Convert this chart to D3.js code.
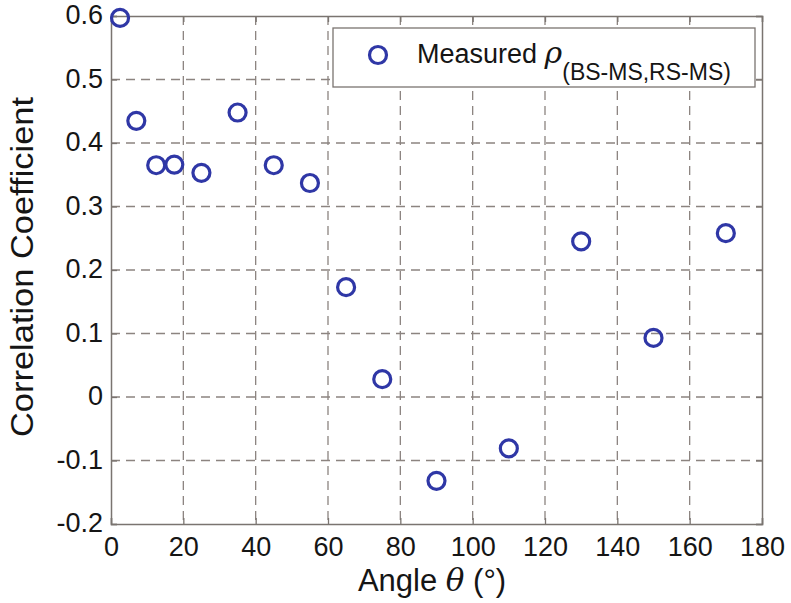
<!DOCTYPE html>
<html>
<head>
<meta charset="utf-8">
<script src="https://cdn.jsdelivr.net/npm/d3@7"></script>
<style>
  html, body { margin: 0; padding: 0; background: #fff; }
  svg { display: block; font-family: "Liberation Sans", Arial, sans-serif; }
</style>
</head>
<body>
<svg id="chart" width="791" height="603"></svg>
<script>
// Measured correlation coefficient vs. angle
const angles = [2.5, 7, 12.5, 17.5, 25, 35, 45, 55, 65, 75, 90, 110, 130, 150, 170];
const rho    = [0.597, 0.435, 0.365, 0.366, 0.353, 0.448, 0.365, 0.337, 0.173, 0.028, -0.132, -0.081, 0.245, 0.093, 0.258];

const xTicks = [0, 20, 40, 60, 80, 100, 120, 140, 160, 180];
const yTicks = [-0.2, -0.1, 0, 0.1, 0.2, 0.3, 0.4, 0.5, 0.6];

const svg = d3.select("#chart");
const margin = { left: 111, right: 791 - 762, top: 16, bottom: 603 - 524 };
const W = 791 - margin.left - margin.right;
const H = 603 - margin.top - margin.bottom;

const x = d3.scaleLinear().domain([0, 180]).range([0, W]);
const y = d3.scaleLinear().domain([-0.2, 0.6]).range([H, 0]);

const g = svg.append("g").attr("transform", `translate(${margin.left},${margin.top})`);

const gridColor = "#8c8480";
const axisColor = "#7a7470";
const markColor = "#2f37a6";
const textColor = "#151515";

// dashed grid
g.append("g").selectAll("line").data(xTicks.slice(1, -1)).join("line")
  .attr("x1", d => x(d)).attr("x2", d => x(d)).attr("y1", 0).attr("y2", H)
  .attr("stroke", gridColor).attr("stroke-width", 1.3).attr("stroke-dasharray", "9,6");
g.append("g").selectAll("line").data(yTicks.slice(1, -1)).join("line")
  .attr("y1", d => y(d)).attr("y2", d => y(d)).attr("x1", 0).attr("x2", W)
  .attr("stroke", gridColor).attr("stroke-width", 1.3).attr("stroke-dasharray", "9,6");

// axes with inward ticks
const fmtY = d => d === 0 ? "0" : d3.format(".1f")(d).replace("−", "-");
const xAxis = g.append("g").attr("transform", `translate(0,${H})`)
  .call(d3.axisBottom(x).tickValues(xTicks).tickSize(-6).tickPadding(13).tickFormat(d3.format("d")));
const yAxis = g.append("g")
  .call(d3.axisLeft(y).tickValues(yTicks).tickSize(-6).tickPadding(8).tickFormat(fmtY));
const xTop = g.append("g")
  .call(d3.axisTop(x).tickValues(xTicks).tickSize(-6).tickFormat(""));
const yRight = g.append("g").attr("transform", `translate(${W},0)`)
  .call(d3.axisRight(y).tickValues(yTicks).tickSize(-6).tickFormat(""));

[xAxis, yAxis, xTop, yRight].forEach(a => {
  a.select(".domain").attr("stroke", axisColor).attr("stroke-width", 1.5);
  a.selectAll(".tick line").attr("stroke", axisColor).attr("stroke-width", 1.3);
  a.selectAll(".tick text").attr("fill", textColor).style("font-size", "27px")
    .style("font-family", "'Liberation Sans', Arial, sans-serif");
});
yAxis.selectAll(".tick text").attr("dy", "0.28em");

// data markers
g.append("g").selectAll("circle").data(angles.map((a, i) => [a, rho[i]])).join("circle")
  .attr("cx", d => x(d[0])).attr("cy", d => y(d[1])).attr("r", 8.5)
  .attr("fill", "none").attr("stroke", markColor).attr("stroke-width", 3.2);

// legend
const lg = svg.append("g").attr("transform", "translate(333,28)");
lg.append("rect").attr("width", 422).attr("height", 59)
  .attr("fill", "#fff").attr("stroke", axisColor).attr("stroke-width", 1.3);
lg.append("circle").attr("cx", 45).attr("cy", 27).attr("r", 8.5)
  .attr("fill", "none").attr("stroke", markColor).attr("stroke-width", 3.2);
const lt = lg.append("text").attr("x", 84).attr("y", 35).attr("fill", textColor)
  .style("font-size", "27px");
lt.append("tspan").text("Measured ");
lt.append("tspan").style("font-style", "italic").style("font-family", "'DejaVu Serif', serif")
  .style("font-size", "30px").text("ρ");
lt.append("tspan").attr("dy", 17).style("font-size", "23px").text("(BS-MS,RS-MS)");

// axis titles
svg.append("text").attr("x", 432).attr("y", 591)
  .attr("text-anchor", "middle").attr("fill", textColor).style("font-size", "31px")
  .call(t => {
    t.append("tspan").text("Angle ");
    t.append("tspan").style("font-style", "italic").style("font-family", "'DejaVu Serif', serif").text("θ");
    t.append("tspan").text(" (°)");
  });
svg.append("text")
  .attr("transform", "translate(33,267) rotate(-90)")
  .attr("text-anchor", "middle").attr("fill", textColor).style("font-size", "31px")
  .attr("textLength", 340).attr("lengthAdjust", "spacingAndGlyphs")
  .text("Correlation Coefficient");
</script>
</body>
</html>
